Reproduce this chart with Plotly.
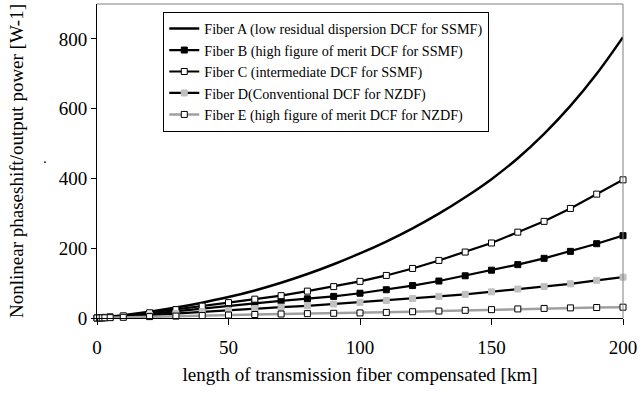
import plotly.graph_objects as go

# Length of transmission fiber compensated [km]
length_km = [0, 1, 2, 3, 5, 10, 20, 30, 40, 50, 60, 70, 80, 90, 100,
             110, 120, 130, 140, 150, 160, 170, 180, 190, 200]

# Nonlinear phase shift / output power [W^-1] for each DCF type
fiber_a = [0, 0.8, 1.6, 2.4, 4, 8, 18, 30, 44, 60, 79, 101, 126, 154, 185,
           219, 257, 299, 346, 398, 458, 528, 608, 700, 805]
fiber_b = [0, 0.5, 1, 1.5, 2.5, 5, 12, 20, 28, 34, 42, 49, 55, 62, 71,
           81, 93, 106, 121, 137, 153, 171, 191, 213, 236]
fiber_c = [0, 0.6, 1.2, 1.8, 3, 6, 15, 24, 34, 44, 54, 64, 77, 90, 105,
           122, 142, 165, 189, 215, 246, 277, 314, 355, 396]
fiber_d = [0, 0.3, 0.6, 0.9, 1.5, 3, 8, 13, 18, 22, 27, 31, 35, 40, 45,
           50, 56, 62, 68, 75, 83, 90, 98, 108, 117]
fiber_e = [0, 0.2, 0.4, 0.6, 1, 2, 4, 5.5, 7, 8.5, 10, 11.5, 12.5, 13.5, 14.5,
           16, 18, 20, 22, 24, 26, 27.5, 29, 30, 31]

names = [
    "Fiber A (low residual dispersion DCF for SSMF)",
    "Fiber B (high figure of merit DCF for SSMF)",
    "Fiber C (intermediate DCF for SSMF)",
    "Fiber D(Conventional DCF for NZDF)",
    "Fiber E (high figure of merit DCF for NZDF)",
]

FONT = "Liberation Serif, Times New Roman, serif"

fig = go.Figure()
fig.add_trace(go.Scatter(
    x=length_km, y=fiber_a, name=names[0], mode="lines",
    line=dict(color="black", width=2.5, shape="spline"),
))
fig.add_trace(go.Scatter(
    x=length_km, y=fiber_b, name=names[1], mode="lines+markers",
    line=dict(color="black", width=2.2),
    marker=dict(symbol="square", size=6, color="black",
                line=dict(color="black", width=1)),
))
fig.add_trace(go.Scatter(
    x=length_km, y=fiber_c, name=names[2], mode="lines+markers",
    line=dict(color="black", width=2.2),
    marker=dict(symbol="square", size=6, color="white",
                line=dict(color="black", width=1)),
))
fig.add_trace(go.Scatter(
    x=length_km, y=fiber_d, name=names[3], mode="lines+markers",
    line=dict(color="black", width=2.2),
    marker=dict(symbol="square", size=6, color="#c0c0c0",
                line=dict(color="#c0c0c0", width=1)),
))
fig.add_trace(go.Scatter(
    x=length_km, y=fiber_e, name=names[4], mode="lines+markers",
    line=dict(color="#a0a0a0", width=2.5),
    marker=dict(symbol="square", size=6, color="white",
                line=dict(color="black", width=1)),
))

fig.update_traces(cliponaxis=False)

fig.update_layout(
    width=641, height=394,
    margin=dict(l=97, r=14, t=4, b=76),
    paper_bgcolor="white", plot_bgcolor="white",
    font=dict(family=FONT, size=19, color="black"),
    showlegend=True,
    legend=dict(
        x=0.126, y=0.975, xanchor="left", yanchor="top",
        bgcolor="white", bordercolor="black", borderwidth=1,
        font=dict(family=FONT, size=14.2, color="black"),
        tracegroupgap=0, itemwidth=30,
    ),
    xaxis=dict(
        range=[0, 200], tickvals=[0, 50, 100, 150, 200],
        showgrid=False, zeroline=False,
        showline=True, linecolor="black", linewidth=1,
        ticks="outside", ticklen=6, tickcolor="black",
        ticklabelstandoff=6, ticklabeloverflow="allow",
        tickfont=dict(family=FONT, size=19),
        title=dict(text="length of transmission fiber compensated [km]",
                   font=dict(family=FONT, size=19), standoff=10),
    ),
    yaxis=dict(
        range=[0, 900], tickvals=[0, 200, 400, 600, 800],
        showgrid=False, zeroline=False,
        showline=True, linecolor="black", linewidth=1,
        ticks="outside", ticklen=5, tickcolor="black",
        tickfont=dict(family=FONT, size=19),
        title=dict(text="Nonlinear phaseshift/output power [W-1]",
                   font=dict(family=FONT, size=19), standoff=30),
    ),
    shapes=[
        dict(type="line", xref="paper", yref="paper", x0=0, x1=1, y0=1, y1=1,
             line=dict(color="#808080", width=1)),
        dict(type="line", xref="paper", yref="paper", x0=1, x1=1, y0=0, y1=1,
             line=dict(color="#808080", width=1)),
    ],
    annotations=[
        dict(text=".", xref="paper", yref="paper", x=-0.106, y=0.51,
             showarrow=False, font=dict(family=FONT, size=15)),
    ],
)

fig.write_html("out.html")
